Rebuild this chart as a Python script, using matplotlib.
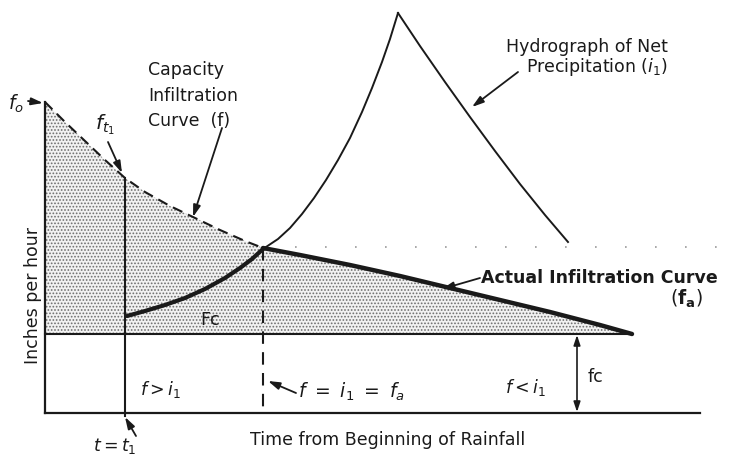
import numpy as np
import matplotlib.pyplot as plt

# diagram coordinates (image-like units, y grows downward)
# capacity infiltration curve f (dashed part, up to f = i1)
cap_x = [45, 65, 85, 105, 125, 145, 170, 193, 220, 245, 263]
cap_y = [102, 122, 141, 160, 178, 192, 206, 217, 230, 241, 248]
# actual infiltration curve fa after f = i1
act_x = [263, 300, 350, 400, 450, 500, 550, 600, 632]
act_y = [248, 255, 265, 276, 288, 300, 312, 325, 334]
# net precipitation hydrograph i1
rain_lo_x = [127, 145, 165, 185, 205, 225, 240, 252, 263]
rain_lo_y = [316, 311, 305, 298, 289, 278, 268, 259, 249]
rain_up_x = [263, 278, 290, 302, 314, 326, 338, 350, 362, 372, 382, 390, 398]
rain_up_y = [249, 239, 228, 214, 198, 180, 160, 138, 112, 88, 62, 39, 13]
rain_dn_x = [398, 420, 445, 470, 495, 520, 545, 568]
rain_dn_y = [13, 46, 82, 117, 151, 184, 215, 242]

fc_level = 334
x_axis = 413
t1 = 125
t_eq = 263

ink = '#1a1a1a'
plt.rcParams['font.family'] = ['DejaVu Sans']

fig = plt.figure(figsize=(7.29, 4.55), dpi=100)
ax = fig.add_axes([0, 0, 1, 1])
ax.set_xlim(0, 729)
ax.set_ylim(455, 0)
ax.axis('off')

# stippled area under infiltration curve
top_x = np.array(cap_x + act_x[1:])
top_y = np.array(cap_y + act_y[1:])
plt.rcParams['hatch.linewidth'] = 0.8
ax.fill_between(top_x, top_y, fc_level, facecolor='#f2f2f2',
                edgecolor='#6e6e6e', hatch='.....', linewidth=0)

# faint dotted scan line
ax.plot([265, 729], [247, 247], color='#9a9a9a', lw=1.2,
        linestyle=(0, (1, 17)))

# axes and reference lines
ax.plot([45, 45], [cap_y[0], x_axis], color=ink, lw=1.6)
ax.plot([45, 700], [x_axis, x_axis], color=ink, lw=1.6)
ax.plot([45, act_x[-1]], [fc_level, fc_level], color=ink, lw=1.5)
ax.plot([t1, t1], [cap_y[4], x_axis + 3], color=ink, lw=1.5)
ax.plot([t_eq, t_eq], [act_y[0], x_axis], color=ink, lw=1.5,
        linestyle=(0, (6, 4)))

# curves
ax.plot(cap_x, cap_y, color=ink, lw=1.5, linestyle=(0, (5, 3)))
ax.plot(act_x, act_y, color=ink, lw=3.2, solid_capstyle='round',
        solid_joinstyle='round')
ax.plot(rain_lo_x, rain_lo_y, color=ink, lw=3.0, solid_capstyle='round',
        solid_joinstyle='round')
ax.plot(rain_up_x, rain_up_y, color=ink, lw=1.4, solid_joinstyle='round')
ax.plot(rain_dn_x, rain_dn_y, color=ink, lw=1.4, solid_joinstyle='round')

arr = dict(arrowstyle='-|>,head_length=0.7,head_width=0.22',
           color=ink, lw=1.3, shrinkA=0, shrinkB=0)
fs = 12.5

ax.annotate('', xy=(43, 103), xytext=(28, 101), arrowprops=arr)
ax.text(8, 104, '$f_o$', fontsize=fs + 1, color=ink, va='center')

ax.text(95, 125, '$f_{t_1}$', fontsize=fs + 2, color=ink, va='center')
ax.annotate('', xy=(122, 173), xytext=(108, 142), arrowprops=arr)

ax.text(148, 61, 'Capacity\nInfiltration\nCurve  (f)', fontsize=fs,
        color=ink, va='top', linespacing=1.55)
ax.annotate('', xy=(193, 217), xytext=(222, 128), arrowprops=arr)

ax.text(506, 47, 'Hydrograph of Net', fontsize=fs, color=ink, va='center')
ax.text(526, 67, 'Precipitation $(i_1)$', fontsize=fs, color=ink,
        va='center')
ax.annotate('', xy=(472, 107), xytext=(518, 72), arrowprops=arr)

ax.text(481, 278, 'Actual Infiltration Curve', fontsize=fs,
        fontweight='bold', color=ink, va='center')
ax.text(670, 299, '$(\\mathbf{f_a})$', fontsize=fs + 1, color=ink,
        va='center')
ax.annotate('', xy=(442, 289), xytext=(480, 278), arrowprops=arr)

ax.text(200, 320, 'Fc', fontsize=fs, color=ink, va='center')
ax.text(140, 390, '$f > i_1$', fontsize=fs, color=ink, va='center')
ax.text(298, 392, '$f\\ =\\ i_1\\ =\\ f_a$', fontsize=fs + 1, color=ink,
        va='center')
ax.annotate('', xy=(268, 381), xytext=(296, 393), arrowprops=arr)
ax.text(505, 388, '$f < i_1$', fontsize=fs, color=ink, va='center')

ax.annotate('', xy=(577, fc_level + 1), xytext=(577, x_axis - 1),
            arrowprops=dict(arrowstyle='<|-|>,head_length=0.6,head_width=0.2',
                            color=ink, lw=1.2, shrinkA=0, shrinkB=0))
ax.text(588, 377, 'fc', fontsize=fs, color=ink, va='center')

ax.text(33, 295, 'Inches per hour', fontsize=fs, color=ink, rotation=90,
        ha='center', va='center')
ax.text(388, 440, 'Time from Beginning of Rainfall', fontsize=fs,
        color=ink, ha='center', va='center')
ax.text(115, 446, '$t = t_1$', fontsize=fs, color=ink, ha='center',
        va='center')
ax.annotate('', xy=(125, 417), xytext=(136, 436), arrowprops=arr)

fig.savefig('out.png', dpi=100)
